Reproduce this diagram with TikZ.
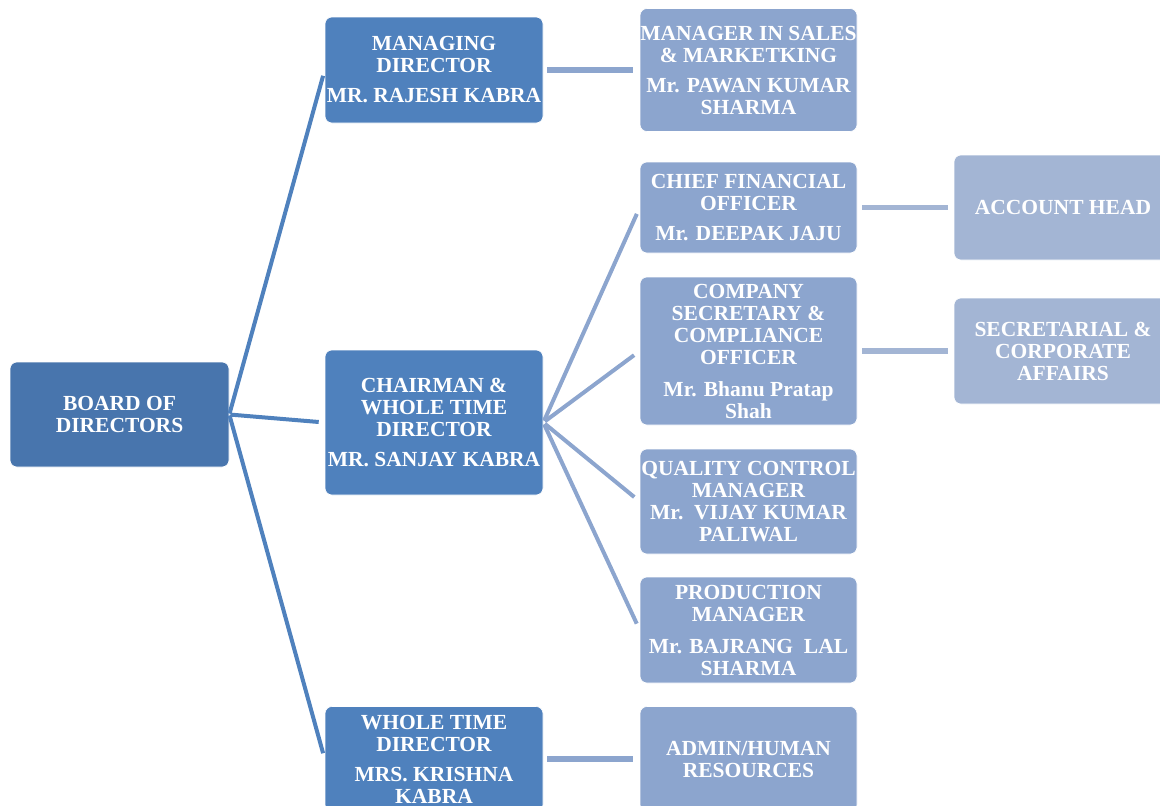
\documentclass[tikz,border=0pt]{standalone}
\usepackage{fontspec}
\setmainfont{Liberation Serif}
\definecolor{cboard}{RGB}{72,117,173}
\definecolor{clevA}{RGB}{79,129,189}
\definecolor{clevB}{RGB}{140,165,206}
\definecolor{clevC}{RGB}{163,181,212}
\tikzset{
  box/.style={rectangle, rounded corners=7pt, draw=white, line width=0.6pt, text=white, align=center, inner sep=0pt,
    font=\fontsize{21.5}{22}\selectfont\bfseries},
  boxboard/.style={box, fill=cboard, minimum width=219pt},
  boxA/.style={box, fill=clevA, minimum width=218pt},
  boxB/.style={box, fill=clevB, minimum width=217pt},
  boxC/.style={box, fill=clevC, minimum width=218pt},
  linkA/.style={draw=clevA, line width=4pt},
  linkB/.style={draw=clevB, line width=4pt},
  hlinkB/.style={draw=clevB, line width=5.5pt},
  hlinkC/.style={draw=clevC, line width=5.5pt}
}
\begin{document}
\begin{tikzpicture}[x=1pt,y=-1pt]
\useasboundingbox (0,0) rectangle (1160,806);
\clip (0,0) rectangle (1160,806);
% nodes
\node[boxboard, minimum height=105pt] (board) at (119.5,414.5) {BOARD OF\\DIRECTORS};
\node[boxA, minimum height=106pt] (md) at (434,70) {MANAGING\\DIRECTOR\\[8pt]MR. RAJESH KABRA};
\node[boxA, minimum height=145pt] (ch) at (434,422.5) {CHAIRMAN \&\\WHOLE TIME\\DIRECTOR\\[8pt]MR. SANJAY KABRA};
\node[boxA, minimum height=105pt] (wtd) at (434,759) {WHOLE TIME\\DIRECTOR\\[8pt]MRS. KRISHNA\\KABRA};
\node[boxB, minimum height=123pt] (sales) at (748.5,70) {MANAGER IN SALES\\\& MARKETKING\\[8pt]Mr. PAWAN KUMAR\\SHARMA};
\node[boxB, minimum height=91pt] (cfo) at (748.5,207.5) {CHIEF FINANCIAL\\OFFICER\\[8pt]Mr. DEEPAK JAJU};
\node[boxB, minimum height=148pt] (cs) at (748.5,351) {COMPANY\\SECRETARY \&\\COMPLIANCE\\OFFICER\\[10pt]Mr. Bhanu Pratap\\Shah};
\node[boxB, minimum height=105pt] (qc) at (748.5,501.5) {QUALITY CONTROL\\MANAGER\\Mr.\ \ VIJAY KUMAR\\PALIWAL};
\node[boxB, minimum height=106pt] (prod) at (748.5,630) {PRODUCTION\\MANAGER\\[10pt]Mr. BAJRANG\ \ LAL\\SHARMA};
\node[boxB, minimum height=105pt] (admin) at (748.5,759) {ADMIN/HUMAN\\RESOURCES};
\node[boxC, minimum height=105pt] (acct) at (1063,207.5) {ACCOUNT HEAD};
\node[boxC, minimum height=106pt] (sec) at (1063,351) {SECRETARIAL \&\\CORPORATE\\AFFAIRS};
% connectors
\draw[linkA, shorten <=1pt, shorten >=6pt] (board.east) -- (md.west);
\draw[linkA, shorten <=1pt, shorten >=6pt] (board.east) -- (ch.west);
\draw[linkA, shorten <=1pt, shorten >=6pt] (board.east) -- (wtd.west);
\draw[hlinkB, shorten <=4pt, shorten >=7pt] (md.east) -- (sales.west);
\draw[linkB, shorten <=2pt, shorten >=7pt] (ch.east) -- (cfo.west);
\draw[linkB, shorten <=2pt, shorten >=7pt] (ch.east) -- (cs.west);
\draw[linkB, shorten <=2pt, shorten >=7pt] (ch.east) -- (qc.west);
\draw[linkB, shorten <=2pt, shorten >=7pt] (ch.east) -- (prod.west);
\draw[hlinkB, shorten <=4pt, shorten >=7pt] (wtd.east) -- (admin.west);
\draw[hlinkC, shorten <=5pt, shorten >=6pt] (cfo.east) -- (acct.west);
\draw[hlinkC, shorten <=5pt, shorten >=6pt] (cs.east) -- (sec.west);
\end{tikzpicture}
\end{document}
